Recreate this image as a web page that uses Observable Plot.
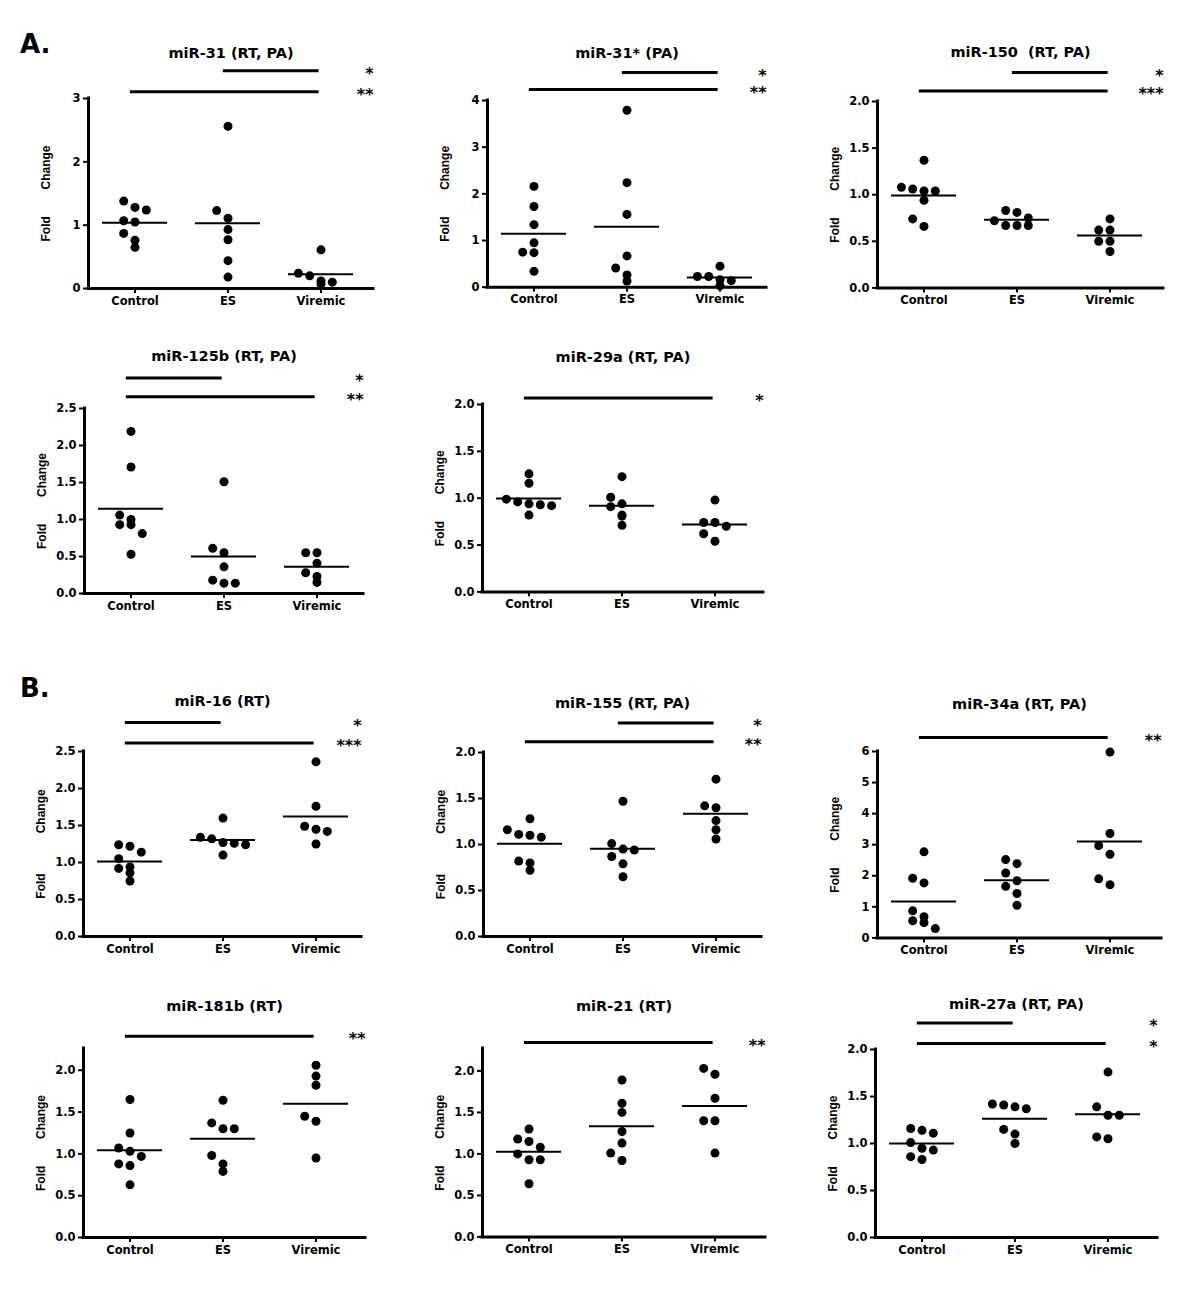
<!DOCTYPE html>
<html><head><meta charset="utf-8">
<script src="https://cdn.jsdelivr.net/npm/d3@7"></script>
<script src="https://cdn.jsdelivr.net/npm/@observablehq/plot@0.6"></script>
<style>
body{margin:0;background:#fff;}
#root{position:relative;width:1200px;height:1300px;background:#fff;overflow:hidden;}
.panel{position:absolute;}
.letter{position:absolute;font-family:"DejaVu Sans";font-weight:bold;font-size:26px;line-height:26px;color:#000;}
</style></head><body><div id="root"></div>
<script>
// ---------- data ----------
const groups = ["Control", "ES", "Viremic"];

const titles = ["miR-31 (RT, PA)", "miR-31* (PA)", "miR-150  (RT, PA)", "miR-125b (RT, PA)", "miR-29a (RT, PA)",
  "miR-16 (RT)", "miR-155 (RT, PA)", "miR-34a (RT, PA)", "miR-181b (RT)", "miR-21 (RT)", "miR-27a (RT, PA)"];

// values per group: [Control, ES, Viremic]
const miR31   = [[1.38, 1.28, 1.24, 1.05, 1.07, 0.87, 0.76, 0.65], [2.56, 1.23, 1.11, 0.93, 0.77, 0.44, 0.18], [0.61, 0.24, 0.12, 0.07, 0.10, 0.20]];
const miR31s  = [[2.16, 1.73, 1.34, 0.95, 0.75, 0.74, 0.34], [3.79, 2.24, 1.56, 0.67, 0.41, 0.26, 0.13], [0.45, 0.23, 0.16, 0.03, 0.14, 0.23]];
const miR150  = [[1.37, 1.06, 1.04, 1.08, 1.04, 0.94, 0.74, 0.66], [0.75, 0.83, 0.81, 0.67, 0.67, 0.67, 0.72], [0.74, 0.62, 0.62, 0.50, 0.50, 0.39]];
const miR125b = [[2.19, 1.71, 1.06, 1.00, 0.93, 0.93, 0.81, 0.53], [1.51, 0.61, 0.55, 0.36, 0.18, 0.14, 0.14], [0.55, 0.55, 0.41, 0.28, 0.23, 0.15]];
const miR29a  = [[1.26, 1.16, 0.99, 0.96, 0.94, 0.93, 0.92, 0.82], [1.23, 1.01, 0.94, 0.91, 0.81, 0.82, 0.71], [0.98, 0.74, 0.70, 0.74, 0.62, 0.54]];
const miR16   = [[1.24, 1.22, 1.14, 1.05, 0.94, 0.92, 0.86, 0.75], [1.60, 1.34, 1.32, 1.27, 1.26, 1.24, 1.10], [2.36, 1.76, 1.49, 1.45, 1.42, 1.25]];
const miR155  = [[1.28, 1.16, 1.11, 1.10, 1.08, 0.82, 0.80, 0.72], [1.47, 1.01, 0.95, 0.94, 0.87, 0.79, 0.65], [1.71, 1.42, 1.40, 1.26, 1.16, 1.06]];
const miR34a  = [[2.77, 1.92, 1.77, 0.87, 0.68, 0.55, 0.49, 0.30], [2.52, 2.39, 2.09, 1.84, 1.66, 1.43, 1.05], [5.98, 3.36, 2.97, 2.69, 1.90, 1.71]];
const miR181b = [[1.65, 1.25, 1.07, 1.03, 0.97, 0.88, 0.86, 0.63], [1.64, 1.37, 1.30, 1.30, 0.98, 0.88, 0.79], [2.06, 1.93, 1.82, 1.45, 1.39, 0.95]];
const miR21   = [[1.30, 1.18, 1.15, 1.08, 1.00, 0.93, 0.93, 0.64], [1.89, 1.61, 1.50, 1.27, 1.13, 1.01, 0.92], [2.03, 1.96, 1.67, 1.40, 1.40, 1.01]];
const miR27a  = [[1.16, 1.14, 1.11, 1.01, 0.95, 0.93, 0.86, 0.83], [1.42, 1.41, 1.39, 1.37, 1.15, 1.10, 1.00], [1.76, 1.39, 1.30, 1.30, 1.07, 1.05]];

// significance comparisons [from, to, stars] (upper first)
const sig31   = [["ES", "Viremic", "*"], ["Control", "Viremic", "**"]];
const sig31s  = [["ES", "Viremic", "*"], ["Control", "Viremic", "**"]];
const sig150  = [["ES", "Viremic", "*"], ["Control", "Viremic", "***"]];
const sig125b = [["Control", "ES", "*"], ["Control", "Viremic", "**"]];
const sig29a  = [["Control", "Viremic", "*"]];
const sig16   = [["Control", "ES", "*"], ["Control", "Viremic", "***"]];
const sig155  = [["ES", "Viremic", "*"], ["Control", "Viremic", "**"]];
const sig34a  = [["Control", "Viremic", "**"]];
const sig181b = [["Control", "Viremic", "**"]];
const sig21   = [["Control", "Viremic", "**"]];
const sig27a  = [["Control", "ES", "*"], ["Control", "Viremic", "*"]];

// y tick values
const ticks3   = [0, 1, 2, 3];
const ticks4   = [0, 1, 2, 3, 4];
const ticks6   = [0, 1, 2, 3, 4, 5, 6];
const ticks2   = [0, 0.5, 1, 1.5, 2];
const ticks25  = [0, 0.5, 1, 1.5, 2, 2.5];

const yLabel = "Fold\u00a0\u00a0\u00a0\u00a0\u00a0\u00a0\u00a0\u00a0Change";
const yLabelWide = "Fold\u00a0\u00a0\u00a0\u00a0\u00a0\u00a0\u00a0\u00a0\u00a0\u00a0\u00a0\u00a0Change";

const panels = [
  {title: titles[0],  data: miR31,   sig: sig31,   ticks: ticks3,  ymax: 3,    label: yLabel},
  {title: titles[1],  data: miR31s,  sig: sig31s,  ticks: ticks4,  ymax: 4,    label: yLabel},
  {title: titles[2],  data: miR150,  sig: sig150,  ticks: ticks2,  ymax: 2,    label: yLabel},
  {title: titles[3],  data: miR125b, sig: sig125b, ticks: ticks25, ymax: 2.5,  label: yLabel},
  {title: titles[4],  data: miR29a,  sig: sig29a,  ticks: ticks2,  ymax: 2,    label: yLabel},
  {title: titles[5],  data: miR16,   sig: sig16,   ticks: ticks25, ymax: 2.5,  label: yLabelWide},
  {title: titles[6],  data: miR155,  sig: sig155,  ticks: ticks2,  ymax: 2,    label: yLabelWide},
  {title: titles[7],  data: miR34a,  sig: sig34a,  ticks: ticks6,  ymax: 6,    label: yLabel},
  {title: titles[8],  data: miR181b, sig: sig181b, ticks: ticks2,  ymax: 2.26, label: yLabel},
  {title: titles[9],  data: miR21,   sig: sig21,   ticks: ticks2,  ymax: 2.27, label: yLabel},
  {title: titles[10], data: miR27a,  sig: sig27a,  ticks: ticks2,  ymax: 2,    label: yLabel}
];

// ---------- layout (page pixels) ----------
const layout = [
  {L: 87.7,  T: 97.7,   W: 285, H: 190,   titleOff: 51,   sigOff: [27.7, 6.7]},
  {L: 487.3, T: 100,    W: 279, H: 186.7, titleOff: 53,   sigOff: [28, 11]},
  {L: 877.3, T: 101.3,  W: 286, H: 186.4, titleOff: 54.6, sigOff: [29, 10.6]},
  {L: 84.3,  T: 407.7,  W: 279, H: 185,   titleOff: 57.5, sigOff: [30.4, 11.7]},
  {L: 482.3, T: 404.3,  W: 281, H: 187.4, titleOff: 52.6, sigOff: [6.6]},
  {L: 83.3,  T: 750.7,  W: 278, H: 185,   titleOff: 55.7, sigOff: [29, 8.4]},
  {L: 483.3, T: 751.7,  W: 278, H: 184,   titleOff: 55,   sigOff: [29.4, 10.7]},
  {L: 877.3, T: 751.3,  W: 284, H: 186.4, titleOff: 53,   sigOff: [14]},
  {L: 83.3,  T: 1048.3, W: 282, H: 189,   titleOff: 48,   sigOff: [12.3]},
  {L: 482.3, T: 1048.3, W: 283, H: 188.4, titleOff: 48,   sigOff: [6]},
  {L: 875,   T: 1049.3, W: 282, H: 188,   titleOff: 51,   sigOff: [26.6, 6]}
];

const mL = 62, mR = 22, mT = 74, mB = 30;
const STEP = 93, SLOT = 11.3, THR = 9;

// GraphPad-like row dodge (computed from values)
function dodge(vals, pxPerUnit) {
  const idx = d3.range(vals.length).sort((a, b) => vals[b] - vals[a]);
  const offs = new Array(vals.length);
  let row = [];
  const flush = () => {
    const n = row.length, start = -Math.floor(n / 2);
    row.forEach((k, j) => offs[k] = start + j);
    row = [];
  };
  for (const k of idx) {
    if (row.length && (vals[row[0]] - vals[k]) * pxPerUnit >= THR) flush();
    row.push(k);
  }
  flush();
  return offs;
}

const root = document.getElementById("root");

panels.forEach((p, i) => {
  const lay = layout[i];
  const pxPerUnit = lay.H / p.ymax;
  const points = [];
  p.data.forEach((vals, g) => {
    const offs = dodge(vals, pxPerUnit);
    vals.forEach((v, k) => points.push({g, v, x: g + offs[k] * SLOT / STEP}));
  });
  const means = p.data.map((vals, g) => ({g, m: d3.mean(vals)}));
  const sigs = p.sig.map(([a, b, s], k) => ({
    x1: groups.indexOf(a) - 0.05,
    x2: groups.indexOf(b) - 0.02,
    y: p.ymax * (1 + lay.sigOff[k] / lay.H),
    s
  }));
  const x0 = -0.5, x1 = -0.5 + lay.W / STEP;
  const fmt = Number.isInteger(p.ticks[1]) ? d3.format("d") : d3.format(".1f");

  const svg = Plot.plot({
    width: mL + lay.W + mR,
    height: mT + lay.H + mB,
    marginLeft: mL, marginRight: mR, marginTop: mT, marginBottom: mB,
    x: {domain: [x0, x1], axis: null},
    y: {domain: [0, p.ymax], axis: null},
    style: {background: "transparent", fontFamily: "DejaVu Sans", fontWeight: "bold", color: "#000", maxWidth: "none", overflow: "visible"},
    marks: [
      Plot.axisY({ticks: p.ticks, tickFormat: fmt, tickSize: 5, tickPadding: 3, strokeWidth: 2, fontSize: 11.5, label: null}),
      Plot.axisX({ticks: [0, 1, 2], tickFormat: d => groups[d], tickSize: 5, tickPadding: 3, strokeWidth: 2, fontSize: 11.5, label: null}),
      Plot.ruleX([x0], {strokeWidth: 3, strokeLinecap: "square"}),
      Plot.ruleY([0], {strokeWidth: 3, strokeLinecap: "square"}),
      Plot.ruleY(means, {y: "m", x1: d => d.g - 0.35, x2: d => d.g + 0.35, strokeWidth: 2}),
      Plot.dot(points, {x: "x", y: "v", r: 4.5, fill: "#000", stroke: null}),
      Plot.ruleY(sigs, {y: "y", x1: "x1", x2: "x2", strokeWidth: 3}),
      Plot.text(sigs, {y: "y", text: "s", frameAnchor: "right", textAnchor: "end", fontSize: 16, dy: 3}),
      Plot.text([p.title], {frameAnchor: "top", dy: -lay.titleOff, fontSize: 14.5}),
      Plot.text([p.label], {frameAnchor: "left", textAnchor: "middle", dx: -42, rotate: -90, fontFamily: "Liberation Sans", fontSize: 12})
    ]
  });
  const div = document.createElement("div");
  div.className = "panel";
  div.style.left = (lay.L - mL) + "px";
  div.style.top = (lay.T - mT) + "px";
  div.style.width = (mL + lay.W + mR) + "px";
  div.appendChild(svg);
  root.appendChild(div);
});

// section letters
[["A.", 20, 31], ["B.", 20, 675]].forEach(([t, x, y]) => {
  const d = document.createElement("div");
  d.className = "letter";
  d.textContent = t;
  d.style.left = x + "px";
  d.style.top = y + "px";
  root.appendChild(d);
});
</script>
</body></html>
